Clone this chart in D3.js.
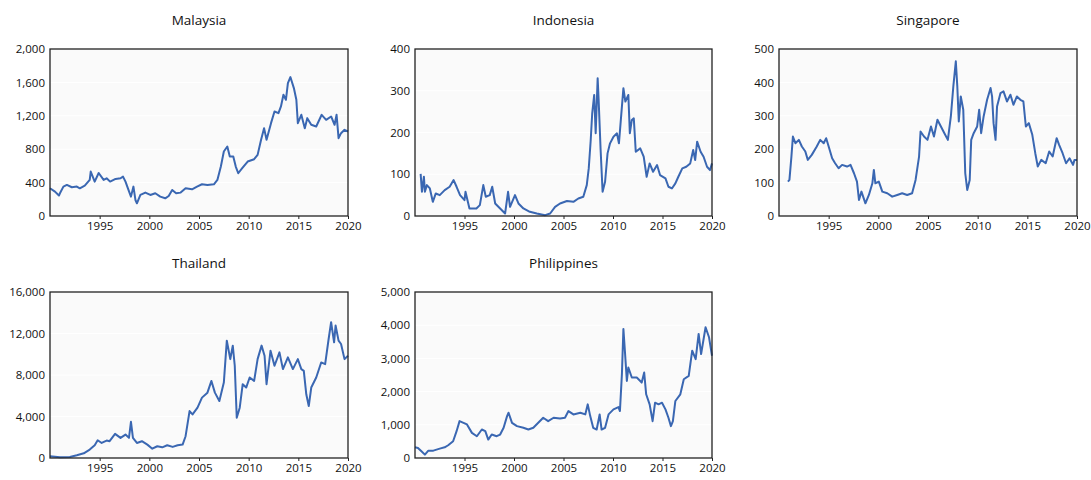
<!DOCTYPE html>
<html>
<head>
  <meta charset="utf-8">
  <title>ASEAN stock indices</title>
  <script src="https://d3js.org/d3.v7.min.js"></script>
  <style>
    body { margin: 0; background: #ffffff; }
    text { font-family: "Open Sans", "Noto Sans", sans-serif; fill: #111; }
    .title { font-size: 13.5px; }
    .tick text { font-size: 11.5px; }
  </style>
</head>
<body>
  <svg id="chart" width="1091" height="480"></svg>

  <script>
    // values, [year, index level]
    const malaysia = [
      [1990.0, 332], [1990.5, 292], [1990.9, 245], [1991.0, 272], [1991.35, 352], [1991.7, 372],
      [1992.2, 344], [1992.7, 352], [1993.0, 332], [1993.5, 364], [1994.0, 432], [1994.1, 532],
      [1994.5, 412], [1994.9, 515], [1995.4, 432], [1995.7, 452], [1996.05, 412], [1996.6, 444],
      [1997.1, 452], [1997.35, 472], [1997.6, 412], [1997.9, 312], [1998.15, 232], [1998.4, 352],
      [1998.6, 192], [1998.75, 152], [1999.1, 252], [1999.6, 280], [2000.1, 252], [2000.6, 272],
      [2001.1, 232], [2001.6, 212], [2001.95, 240], [2002.3, 312], [2002.7, 272], [2003.15, 280],
      [2003.65, 332], [2004.3, 320], [2004.8, 352], [2005.3, 380], [2005.85, 372], [2006.5, 380],
      [2006.85, 432], [2007.2, 592], [2007.5, 772], [2007.85, 832], [2008.1, 712], [2008.45, 712],
      [2008.7, 592], [2008.95, 512], [2009.35, 572], [2009.9, 652], [2010.55, 680], [2010.9, 732],
      [2011.25, 912], [2011.55, 1052], [2011.8, 912], [2012.25, 1112], [2012.6, 1252], [2013.0, 1232],
      [2013.25, 1312], [2013.5, 1452], [2013.75, 1392], [2013.95, 1592], [2014.2, 1664], [2014.55, 1532],
      [2014.8, 1392], [2014.95, 1112], [2015.3, 1212], [2015.65, 1052], [2015.9, 1172], [2016.3, 1092],
      [2016.8, 1072], [2017.35, 1212], [2017.8, 1152], [2018.3, 1192], [2018.65, 1092], [2018.85, 1212],
      [2019.05, 932], [2019.3, 992], [2019.65, 1032], [2020.0, 1012]
    ];

    const indonesia = [
      [1990.57, 101], [1990.7, 58], [1990.9, 94], [1991.0, 58], [1991.2, 74], [1991.5, 66],
      [1991.8, 34], [1992.1, 54], [1992.5, 50], [1993.0, 62], [1993.5, 70], [1993.9, 86],
      [1994.2, 70], [1994.55, 50], [1995.0, 38], [1995.1, 58], [1995.5, 18], [1996.2, 18],
      [1996.55, 26], [1996.9, 74], [1997.15, 46], [1997.55, 50], [1997.8, 70], [1998.1, 30],
      [1998.6, 18], [1999.1, 6], [1999.4, 58], [1999.6, 22], [2000.1, 50], [2000.45, 30],
      [2000.95, 18], [2001.6, 10], [2002.3, 6], [2003.15, 2], [2003.65, 6], [2004.15, 22],
      [2004.65, 30], [2005.35, 36], [2006.0, 34], [2006.5, 42], [2007.0, 46], [2007.35, 74],
      [2007.55, 114], [2007.75, 182], [2007.9, 246], [2008.1, 290], [2008.25, 198], [2008.45, 330],
      [2008.55, 278], [2008.75, 158], [2008.95, 58], [2009.2, 82], [2009.45, 150], [2009.7, 174],
      [2010.05, 190], [2010.4, 198], [2010.6, 174], [2010.9, 262], [2011.05, 306], [2011.25, 274],
      [2011.55, 290], [2011.7, 198], [2011.9, 230], [2012.1, 234], [2012.3, 154], [2012.75, 162],
      [2013.1, 142], [2013.4, 94], [2013.7, 126], [2014.05, 106], [2014.45, 122], [2014.75, 98],
      [2015.3, 90], [2015.6, 70], [2015.95, 66], [2016.3, 78], [2016.6, 94], [2017.0, 114],
      [2017.4, 118], [2017.8, 126], [2018.1, 158], [2018.3, 134], [2018.5, 178], [2018.85, 154],
      [2019.15, 142], [2019.5, 118], [2019.8, 110], [2020.0, 126]
    ];

    const singapore = [
      [1990.9, 103], [1991.05, 108], [1991.25, 178], [1991.4, 238], [1991.65, 218], [1992.0, 228],
      [1992.3, 208], [1992.65, 193], [1992.9, 168], [1993.3, 183], [1993.8, 208], [1994.15, 228],
      [1994.5, 218], [1994.75, 233], [1995.0, 208], [1995.35, 173], [1995.65, 158], [1996.0, 143],
      [1996.35, 153], [1996.85, 148], [1997.2, 153], [1997.55, 128], [1997.85, 103], [1998.05, 48],
      [1998.3, 73], [1998.7, 38], [1999.05, 63], [1999.4, 98], [1999.55, 138], [1999.7, 98],
      [2000.05, 103], [2000.4, 73], [2000.9, 68], [2001.4, 58], [2001.9, 63], [2002.4, 68],
      [2002.9, 63], [2003.4, 68], [2003.75, 108], [2004.1, 178], [2004.25, 253], [2004.6, 238],
      [2004.95, 228], [2005.3, 268], [2005.6, 238], [2005.95, 288], [2006.3, 268], [2006.65, 248],
      [2007.0, 228], [2007.3, 298], [2007.55, 388], [2007.8, 463], [2007.95, 388], [2008.1, 283],
      [2008.3, 358], [2008.55, 318], [2008.75, 128], [2008.95, 78], [2009.2, 108], [2009.35, 228],
      [2009.6, 248], [2009.95, 268], [2010.15, 318], [2010.35, 248], [2010.6, 298], [2010.95, 348],
      [2011.3, 383], [2011.45, 358], [2011.6, 278], [2011.8, 228], [2011.95, 328], [2012.3, 368],
      [2012.6, 373], [2012.95, 343], [2013.3, 363], [2013.6, 333], [2013.95, 358], [2014.3, 348],
      [2014.6, 343], [2014.85, 268], [2015.15, 278], [2015.5, 243], [2015.8, 188], [2016.05, 148],
      [2016.4, 168], [2016.85, 158], [2017.2, 193], [2017.55, 178], [2017.95, 233], [2018.2, 213],
      [2018.55, 188], [2018.9, 158], [2019.25, 173], [2019.6, 153], [2019.75, 168], [2020.0, 168]
    ];

    const thailand = [
      [1990.0, 160], [1991.0, 65], [1992.0, 100], [1992.7, 260], [1993.4, 450], [1994.0, 810],
      [1994.5, 1230], [1994.8, 1710], [1995.2, 1450], [1995.7, 1680], [1996.0, 1620], [1996.55, 2330],
      [1997.1, 1940], [1997.6, 2260], [1997.95, 1940], [1998.15, 3490], [1998.35, 1940], [1998.75, 1450],
      [1999.25, 1620], [1999.8, 1290], [2000.3, 900], [2000.8, 1130], [2001.3, 1030], [2001.8, 1230],
      [2002.35, 1070], [2002.85, 1230], [2003.35, 1290], [2003.65, 2100], [2004.05, 4520], [2004.35, 4200],
      [2004.85, 4850], [2005.3, 5820], [2005.85, 6300], [2006.25, 7430], [2006.6, 6300], [2007.05, 5490],
      [2007.5, 7270], [2007.8, 11310], [2008.15, 9530], [2008.4, 10830], [2008.6, 8890], [2008.8, 3880],
      [2009.1, 4850], [2009.4, 7110], [2009.75, 6790], [2010.1, 7760], [2010.55, 7430], [2010.9, 9530],
      [2011.3, 10830], [2011.6, 9860], [2011.8, 7110], [2012.2, 10340], [2012.6, 8890], [2013.1, 10180],
      [2013.45, 8570], [2013.95, 9700], [2014.45, 8570], [2014.95, 9530], [2015.3, 8570], [2015.55, 8400],
      [2015.8, 6140], [2016.05, 5010], [2016.3, 6790], [2016.8, 7760], [2017.3, 9210], [2017.7, 9050],
      [2018.05, 11470], [2018.3, 13090], [2018.6, 11150], [2018.75, 12770], [2019.05, 11310], [2019.3, 10990],
      [2019.65, 9530], [2020.0, 9860]
    ];

    const philippines = [
      [1990.0, 323], [1990.3, 303], [1990.65, 202], [1991.0, 101], [1991.35, 222], [1991.85, 222],
      [1992.5, 283], [1993.0, 323], [1993.35, 384], [1993.85, 505], [1994.2, 808], [1994.5, 1110],
      [1994.9, 1060], [1995.25, 1010], [1995.75, 757], [1996.25, 656], [1996.75, 858], [1997.1, 808],
      [1997.4, 555], [1997.75, 707], [1998.25, 656], [1998.6, 707], [1998.95, 909], [1999.3, 1262],
      [1999.45, 1363], [1999.8, 1060], [2000.3, 960], [2000.95, 909], [2001.45, 858], [2001.95, 909],
      [2002.45, 1060], [2002.95, 1212], [2003.45, 1110], [2004.0, 1212], [2004.65, 1191], [2005.15, 1212],
      [2005.5, 1414], [2006.0, 1313], [2006.7, 1363], [2007.2, 1313], [2007.45, 1616], [2007.7, 1262],
      [2008.0, 909], [2008.35, 858], [2008.65, 1313], [2008.85, 858], [2009.2, 909], [2009.55, 1313],
      [2010.05, 1464], [2010.55, 1535], [2010.7, 1414], [2010.9, 2525], [2011.05, 3888], [2011.2, 3232],
      [2011.4, 2323], [2011.55, 2727], [2011.9, 2424], [2012.4, 2424], [2012.9, 2272], [2013.15, 2575],
      [2013.35, 1919], [2013.7, 1616], [2014.0, 1110], [2014.25, 1666], [2014.6, 1616], [2014.95, 1666],
      [2015.3, 1464], [2015.6, 1212], [2015.85, 960], [2016.05, 1110], [2016.3, 1717], [2016.8, 1919],
      [2017.15, 2373], [2017.65, 2474], [2018.0, 3232], [2018.35, 2979], [2018.65, 3737], [2018.9, 3131],
      [2019.35, 3939], [2019.7, 3636], [2020.0, 3080]
    ];

    const yearTicks = [1995, 2000, 2005, 2010, 2015, 2020];

    const panels = [
      { name: "Malaysia",    data: malaysia,    yMax: 2000,  yStep: 400,  left: 50,  top: 49,  width: 298, height: 167 },
      { name: "Indonesia",   data: indonesia,   yMax: 400,   yStep: 100,  left: 415, top: 49,  width: 297, height: 167 },
      { name: "Singapore",   data: singapore,   yMax: 500,   yStep: 100,  left: 779, top: 49,  width: 298, height: 167 },
      { name: "Thailand",    data: thailand,    yMax: 16000, yStep: 4000, left: 50,  top: 292, width: 298, height: 166 },
      { name: "Philippines", data: philippines, yMax: 5000,  yStep: 1000, left: 415, top: 292, width: 297, height: 166 }
    ];

    const svg = d3.select("#chart");

    panels.forEach(p => {
      const g = svg.append("g").attr("transform", `translate(${p.left},${p.top})`);

      const x = d3.scaleLinear().domain([1990, 2020]).range([0, p.width]);
      const y = d3.scaleLinear().domain([0, p.yMax]).range([p.height, 0]);
      const yTicks = d3.range(0, p.yMax + 1, p.yStep);

      // plot background
      g.append("rect")
        .attr("width", p.width)
        .attr("height", p.height)
        .attr("fill", "#fafafa");

      // faint grid lines
      g.selectAll(".grid")
        .data(yTicks.slice(1, -1))
        .join("line")
        .attr("x1", 0).attr("x2", p.width)
        .attr("y1", d => y(d)).attr("y2", d => y(d))
        .attr("stroke", "#ffffff")
        .attr("stroke-width", 1);

      const line = d3.line()
        .x(d => x(d[0]))
        .y(d => y(d[1]));

      g.append("path")
        .datum(p.data)
        .attr("d", line)
        .attr("fill", "none")
        .attr("stroke", "#3a67b2")
        .attr("stroke-width", 2)
        .attr("stroke-linejoin", "round");

      // frame
      g.append("rect")
        .attr("width", p.width)
        .attr("height", p.height)
        .attr("fill", "none")
        .attr("stroke", "#222")
        .attr("stroke-width", 1.3);

      // axes
      const xAxis = g.append("g")
        .attr("transform", `translate(0,${p.height})`)
        .call(d3.axisBottom(x).tickValues(yearTicks).tickFormat(d3.format("d")).tickSize(3).tickPadding(3));
      xAxis.select(".domain").remove();
      xAxis.selectAll(".tick line").attr("stroke", "#222");

      const yAxis = g.append("g")
        .call(d3.axisLeft(y).tickValues(yTicks).tickFormat(d3.format(",")).tickSize(0).tickPadding(5));
      yAxis.select(".domain").remove();

      // title
      g.append("text")
        .attr("class", "title")
        .attr("x", p.width / 2)
        .attr("y", -24)
        .attr("text-anchor", "middle")
        .text(p.name);
    });
  </script>
</body>
</html>
